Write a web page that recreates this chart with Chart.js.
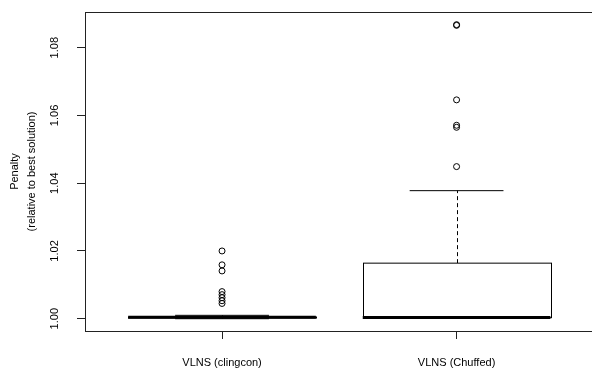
<!DOCTYPE html>
<html>
<head>
<meta charset="utf-8">
<script src="https://cdn.jsdelivr.net/npm/chart.js@4/dist/chart.umd.min.js"></script>
<style>
  html, body { margin: 0; padding: 0; background: #fff; overflow: hidden; }
  canvas { display: block; }
</style>
</head>
<body>
<canvas id="c" width="592" height="370"></canvas>
<script>
// ---- data ----
const categories = ['VLNS (clingcon)', 'VLNS (Chuffed)'];
const whiskerLow  = [1.0000, 1.0001];
const q1          = [1.0002, 1.0003];
const median      = [1.0004, 1.00035];
const q3          = [1.0005, 1.0164];
const whiskerHigh = [1.0010, 1.0378];
const outliersClingcon = [1.0200, 1.0159, 1.0141, 1.0080, 1.0071, 1.0062, 1.0053, 1.0045];
const outliersChuffed  = [1.0868, 1.0866, 1.0646, 1.0571, 1.0565, 1.0449];
const yTicks = [1.00, 1.02, 1.04, 1.06, 1.08];

const FONT = "'Liberation Sans', Arial, Helvetica, sans-serif";
const INK = '#000';

const outlierPoints = [];
outliersClingcon.forEach(v => outlierPoints.push({x: 1, y: v}));
outliersChuffed.forEach(v => outlierPoints.push({x: 2, y: v}));

const boxPlugin = {
  id: 'boxes',
  beforeDatasetsDraw(chart) {
    const {ctx, chartArea, scales: {x, y}} = chart;
    const unit = x.getPixelForValue(2) - x.getPixelForValue(1);
    ctx.save();
    // frame lines running off the right edge (as in the reference)
    ctx.strokeStyle = '#222';
    ctx.lineWidth = 1;
    ctx.beginPath();
    ctx.moveTo(chartArea.left, Math.round(chartArea.top) + 0.5);
    ctx.lineTo(chartArea.right + 10, Math.round(chartArea.top) + 0.5);
    ctx.moveTo(chartArea.right - 1, Math.round(chartArea.bottom) + 0.5);
    ctx.lineTo(chartArea.right + 10, Math.round(chartArea.bottom) + 0.5);
    ctx.stroke();

    categories.forEach((c, i) => {
      const cx = x.getPixelForValue(i + 1);
      const hb = unit * 0.4, hw = unit * 0.2;
      const yl = y.getPixelForValue(whiskerLow[i]);
      const y1 = y.getPixelForValue(q1[i]);
      const ym = y.getPixelForValue(median[i]);
      const y3 = y.getPixelForValue(q3[i]);
      const yh = y.getPixelForValue(whiskerHigh[i]);
      ctx.strokeStyle = INK;
      // whiskers (dashed)
      ctx.lineWidth = 1;
      ctx.setLineDash([4, 3]);
      ctx.beginPath();
      ctx.moveTo(Math.round(cx) + 0.5, y3); ctx.lineTo(Math.round(cx) + 0.5, yh);
      ctx.moveTo(Math.round(cx) + 0.5, y1); ctx.lineTo(Math.round(cx) + 0.5, yl);
      ctx.stroke();
      ctx.setLineDash([]);
      // whisker caps
      ctx.beginPath();
      ctx.moveTo(cx - hw, yh); ctx.lineTo(cx + hw, yh);
      ctx.moveTo(cx - hw, yl); ctx.lineTo(cx + hw, yl);
      ctx.stroke();
      // box
      ctx.fillStyle = '#fff';
      ctx.fillRect(cx - hb, y3, 2 * hb, y1 - y3);
      ctx.strokeRect(Math.round(cx - hb) + 0.5, y3, Math.round(2 * hb), y1 - y3);
      // median
      ctx.lineWidth = 3;
      ctx.beginPath();
      ctx.moveTo(cx - hb, ym); ctx.lineTo(cx + hb, ym);
      ctx.stroke();
    });
    ctx.restore();
  }
};

new Chart(document.getElementById('c'), {
  type: 'scatter',
  data: {
    datasets: [{
      data: outlierPoints,
      pointStyle: 'circle',
      pointRadius: 3,
      pointHoverRadius: 3,
      pointBackgroundColor: 'rgba(0,0,0,0)',
      pointBorderColor: INK,
      pointBorderWidth: 1
    }]
  },
  options: {
    responsive: false,
    animation: false,
    events: [],
    layout: { padding: { top: 12, right: 0, left: 0, bottom: 0 } },
    plugins: { legend: { display: false }, tooltip: { enabled: false } },
    scales: {
      x: {
        type: 'linear',
        min: 0.4157,
        max: 2.5604,
        afterBuildTicks: s => { s.ticks = categories.map((c, i) => ({ value: i + 1 })); },
        afterFit: s => { s.height = 39; s.paddingLeft = 0; s.paddingRight = 0; },
        ticks: {
          callback: v => categories[Math.round(v) - 1],
          font: { family: FONT, size: 11 },
          color: INK,
          padding: 17,
          maxRotation: 0
        },
        grid: { drawOnChartArea: false, drawTicks: true, tickLength: 8, color: '#222', tickColor: '#222' },
        border: { display: true, color: '#222', width: 1 }
      },
      y: {
        type: 'linear',
        min: 0.99637,
        max: 1.09054,
        afterBuildTicks: s => { s.ticks = yTicks.map(v => ({ value: v })); },
        afterFit: s => { s.width = 85; s.paddingTop = 0; s.paddingBottom = 0; },
        ticks: {
          callback: v => Number(v).toFixed(2),
          font: { family: FONT, size: 11 },
          color: INK,
          padding: 11,
          minRotation: 90,
          maxRotation: 90,
          crossAlign: 'center'
        },
        grid: { drawOnChartArea: false, drawTicks: true, tickLength: 8, color: '#222', tickColor: '#222' },
        border: { display: true, color: '#222', width: 1 },
        title: {
          display: true,
          text: ['Penalty', '(relative to best solution)'],
          font: { family: FONT, size: 11, lineHeight: 1.5 },
          color: INK,
          padding: { top: 7, bottom: 0 }
        }
      }
    }
  },
  plugins: [boxPlugin]
});
</script>
</body>
</html>
